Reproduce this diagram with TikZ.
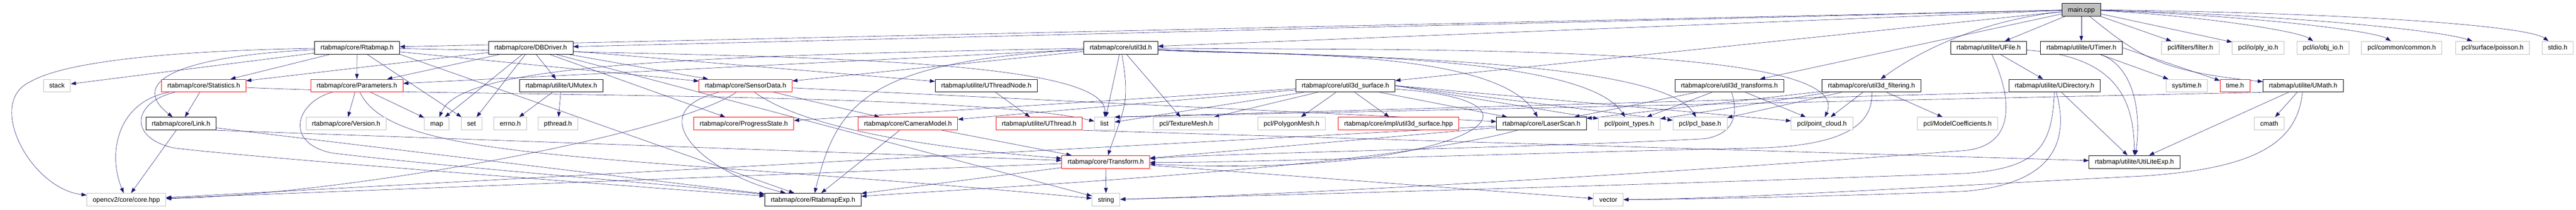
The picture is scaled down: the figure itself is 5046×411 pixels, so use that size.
\documentclass[tikz,border=0pt]{standalone}
\usepackage{fontspec}
\setmainfont{Liberation Sans}
\usetikzlibrary{arrows.meta,backgrounds}

\definecolor{edgeblue}{RGB}{25,25,112}
\definecolor{linegray}{RGB}{191,191,191}

\begin{document}
\begin{tikzpicture}[
			x = 0.025cm,
			y = -0.025cm,
			> = {Triangle[length=0.25cm,width=0.18cm]},
			font = \fontsize{9.2}{11}\selectfont,
			line width = 0.7pt]

			\tikzstyle{header}=[
			draw = black,
			fill = white,
			inner xsep = 0.29cm,
			inner ysep = 0pt,
			text height = 1.5ex,
			text depth = 0.35ex,
			minimum height = 0.625cm]
			\tikzstyle{redheader}=[header, draw = red]
			\tikzstyle{sysheader}=[header, draw = linegray]
			\tikzstyle{dep}=[->, color = edgeblue]

			\useasboundingbox (0,0) rectangle (5046,411);

			% row 0 and 1
			\node[header, fill = linegray] (main) at (4077,19) {main.cpp};
			\node[header] (rtabmap) at (699.5,93.5) {rtabmap/core/Rtabmap.h};
			\node[header] (dbdriver) at (1039.5,93.5) {rtabmap/core/DBDriver.h};
			\node[header] (utilthreed) at (2195.5,93.5) {rtabmap/core/util3d.h};
			\node[header] (ufile) at (3895.5,93.5) {rtabmap/utilite/UFile.h};
			\node[header] (utimer) at (4077,93.5) {rtabmap/utilite/UTimer.h};
			\node[sysheader] (pclfilter) at (4290.5,93.5) {pcl/filters/filter.h};
			\node[sysheader] (plyio) at (4423.5,93.5) {pcl/io/ply\_io.h};
			\node[sysheader] (objio) at (4550.5,93.5) {pcl/io/obj\_io.h};
			\node[sysheader] (pclcommon) at (4704.5,93.5) {pcl/common/common.h};
			\node[sysheader] (poisson) at (4882.5,93.5) {pcl/surface/poisson.h};
			\node[sysheader] (stdio) at (5010,93.5) {stdio.h};

			% row 2
			\node[sysheader] (stack) at (111.5,168) {stack};
			\node[redheader] (statistics) at (399,168) {rtabmap/core/Statistics.h};
			\node[redheader] (parameters) at (699,168) {rtabmap/core/Parameters.h};
			\node[header] (umutex) at (1099.5,168) {rtabmap/utilite/UMutex.h};
			\node[redheader] (sensordata) at (1460.5,168) {rtabmap/core/SensorData.h};
			\node[header] (uthreadnode) at (1932,168) {rtabmap/utilite/UThreadNode.h};
			\node[header] (surface) at (2635.5,168) {rtabmap/core/util3d\_surface.h};
			\node[header] (transforms) at (3387.5,168) {rtabmap/core/util3d\_transforms.h};
			\node[header] (filtering) at (3666,168) {rtabmap/core/util3d\_filtering.h};
			\node[header] (udirectory) at (4024.5,168) {rtabmap/utilite/UDirectory.h};
			\node[sysheader] (systime) at (4283.5,168) {sys/time.h};
			\node[redheader] (timeh) at (4378,168) {time.h};
			\node[header] (umath) at (4511.5,168) {rtabmap/utilite/UMath.h};

			% row 3
			\node[header] (link) at (354.5,242.5) {rtabmap/core/Link.h};
			\node[sysheader] (version) at (678,242.5) {rtabmap/core/Version.h};
			\node[sysheader] (map) at (855.5,242.5) {map};
			\node[sysheader] (set) at (923.5,242.5) {set};
			\node[sysheader] (errno) at (999.5,242.5) {errno.h};
			\node[sysheader] (pthread) at (1093,242.5) {pthread.h};
			\node[redheader] (progress) at (1457,242.5) {rtabmap/core/ProgressState.h};
			\node[redheader] (camera) at (1778.5,242.5) {rtabmap/core/CameraModel.h};
			\node[redheader] (uthread) at (2035.5,242.5) {rtabmap/utilite/UThread.h};
			\node[sysheader] (list) at (2163.5,242.5) {list};
			\node[sysheader] (texmesh) at (2323.5,242.5) {pcl/TextureMesh.h};
			\node[sysheader] (polymesh) at (2530,242.5) {pcl/PolygonMesh.h};
			\node[redheader] (surfimpl) at (2739.5,242.5) {rtabmap/core/impl/util3d\_surface.hpp};
			\node[header] (laserscan) at (3019.5,242.5) {rtabmap/core/LaserScan.h};
			\node[sysheader] (pointtypes) at (3191.5,242.5) {pcl/point\_types.h};
			\node[sysheader] (pclbase) at (3330,242.5) {pcl/pcl\_base.h};
			\node[sysheader] (pointcloud) at (3569,242.5) {pcl/point\_cloud.h};
			\node[sysheader] (modelcoef) at (3834.5,242.5) {pcl/ModelCoefficients.h};
			\node[sysheader] (cmath) at (4445,242.5) {cmath};

			% row 4 and 5
			\node[redheader] (transform) at (2166,317.5) {rtabmap/core/Transform.h};
			\node[header] (utiliteexp) at (4181,317.5) {rtabmap/utilite/UtiLiteExp.h};
			\node[sysheader] (opencv) at (247.5,391.5) {opencv2/core/core.hpp};
			\node[header] (rtabmapexp) at (1592.5,391.5) {rtabmap/core/RtabmapExp.h};
			\node[sysheader] (string) at (2166.5,391.5) {string};
			\node[sysheader] (vector) at (3150.5,391.5) {vector};

			\begin{scope}[on background layer]
			% main.cpp
			\path[dep] (main) edge (rtabmap) edge (dbdriver) edge (utilthreed)
				edge (surface) edge (transforms) edge (ufile) edge (utimer)
				edge (pclfilter) edge (plyio);
			\draw[dep] (main) .. controls (3880,40) and (3760,100) .. (filtering);
			\draw[dep] (main) .. controls (4190,110) and (4230,140) .. (umath);
			\draw[dep] (main) .. controls (4300,30) and (4500,60) .. (objio);
			\draw[dep] (main) .. controls (4400,30) and (4650,60) .. (pclcommon);
			\draw[dep] (main) .. controls (4500,30) and (4780,60) .. (poisson);
			\draw[dep] (main) .. controls (4600,25) and (4950,50) .. (stdio);

			% Rtabmap.h
			\path[dep] (rtabmap) edge (stack) edge (statistics) edge (parameters)
				edge (sensordata) edge (set);
			\path[dep] (rtabmap.south east) edge (rtabmapexp);
			\draw[dep] (rtabmap) .. controls (300,100) and (120,125) .. (60,160)
				.. controls (-30,200) and (60,370) .. (opencv);
			\draw[dep] (rtabmap) .. controls (350,110) and (250,160) .. (link);
			\draw[dep] (rtabmap) .. controls (1500,110) and (2170,110) .. (list);

			% DBDriver.h
			\path[dep] (dbdriver) edge (statistics) edge (parameters) edge (umutex)
				edge (uthreadnode) edge (sensordata) edge (progress) edge (map)
				edge (set) edge (string);

			% Statistics.h, Link.h, Parameters.h
			\path[dep] (statistics) edge (link);
			\draw[dep] (statistics) .. controls (230,200) and (210,300) .. (opencv);
			\draw[dep] (statistics) .. controls (260,200) and (250,270) .. (340,290)
				.. controls (500,310) and (1300,370) .. (rtabmapexp);
			\draw[dep] (statistics) .. controls (900,190) and (1900,180) .. (list);
			\path[dep] (link) edge (opencv) edge (rtabmapexp);
			\path[dep] (link.south east) edge (transform);
			\path[dep] (parameters) edge (version) edge (map);
			\draw[dep] (parameters) .. controls (770,320) and (1200,300) .. (string);
			\draw[dep] (parameters) .. controls (580,200) and (555,280) .. (650,300)
				.. controls (900,330) and (1300,360) .. (rtabmapexp);

			% utilite threads
			\path[dep] (umutex) edge (errno) edge (pthread);
			\path[dep] (uthreadnode) edge (uthread);
			\path[dep] (uthread.south east) edge (utiliteexp);

			% SensorData.h, CameraModel.h, Transform.h, LaserScan.h
			\path[dep] (sensordata) edge (camera) edge (laserscan);
			\draw[dep] (sensordata) .. controls (1600,270) and (1950,300) .. (transform);
			\draw[dep] (sensordata) .. controls (1250,220) and (1380,340) .. (rtabmapexp);
			\draw[dep] (sensordata) .. controls (1330,260) and (700,380) .. (opencv);
			\path[dep] (camera) edge (transform) edge (rtabmapexp);
			\path[dep] (transform) edge (string) edge (vector) edge (rtabmapexp)
				edge (opencv);
			\path[dep] (laserscan) edge (transform) edge (opencv);
			\draw[dep] (laserscan) .. controls (2700,330) and (1900,370) .. (rtabmapexp);

			% util3d.h
			\path[dep] (utilthreed) edge (list) edge (texmesh) edge (sensordata)
				edge (parameters);
			\draw[dep] (utilthreed) .. controls (2214,204) and (2202,211) .. (transform);
			\draw[dep] (utilthreed) .. controls (1300,110) and (900,130) .. (map);
			\draw[dep] (utilthreed) .. controls (1700,120) and (1640,200) .. (rtabmapexp);
			\draw[dep] (utilthreed) .. controls (2450,110) and (2930,90) .. (laserscan);
			\draw[dep] (utilthreed) .. controls (2500,110) and (3100,100) .. (pointtypes);
			\draw[dep] (utilthreed) .. controls (2550,110) and (3250,110) .. (pclbase);
			\draw[dep] (utilthreed) .. controls (2700,100) and (3640,80) .. (pointcloud);

			% util3d_surface.h
			\path[dep] (surface) edge (polymesh) edge (surfimpl) edge (texmesh)
				edge (list) edge (laserscan) edge (progress) edge (camera);
			\path[dep] (surface.east) edge (pointtypes) edge (pclbase) edge (pointcloud);
			\draw[dep] (surface) .. controls (3100,200) and (2850,350) .. (transform);

			% util3d_transforms.h, util3d_filtering.h
			\path[dep] (transforms) edge (pointtypes) edge (pointcloud) edge (laserscan);
			\draw[dep] (transforms) .. controls (3405,220) and (3400,262) .. (3340,272)
				.. controls (3000,290) and (2400,300) .. (transform);
			\path[dep] (filtering) edge (pointcloud) edge (pointtypes) edge (pclbase)
				edge (modelcoef) edge (laserscan);
			\draw[dep] (filtering) .. controls (3670,250) and (3600,285) .. (3450,290)
				.. controls (3000,300) and (2400,320) .. (transform);

			% UFile.h, UDirectory.h, UTimer.h, UMath.h
			\path[dep] (ufile) edge (udirectory);
			\draw[dep] (ufile) .. controls (4150,110) and (4180,200) .. (utiliteexp);
			\draw[dep] (ufile) .. controls (3945,200) and (3945,285) .. (3850,295)
				.. controls (3400,330) and (2600,380) .. (string);
			\path[dep] (udirectory) edge (utiliteexp);
			\path[dep] (udirectory.south west) edge (list.north east);
			\draw[dep] (udirectory) .. controls (4020,290) and (3990,330) .. (3850,340)
				.. controls (3300,360) and (2600,380) .. (string);
			\draw[dep] (udirectory) .. controls (4055,280) and (4020,360) .. (3850,375)
				.. controls (3600,385) and (3300,391) .. (vector);
			\path[dep] (utimer) edge (systime);
			\path[dep] (utimer.east) edge (timeh);
			\draw[dep] (utimer) .. controls (4180,130) and (4195,220) .. (utiliteexp);
			\path[dep] (umath) edge (utiliteexp) edge (cmath);
			\path[dep] (umath.south west) edge (list.north east);
			\draw[dep] (umath) .. controls (4500,280) and (4420,330) .. (4200,345)
				.. controls (3800,365) and (3400,390) .. (vector);
			\end{scope}
		\end{tikzpicture}
\end{document}
